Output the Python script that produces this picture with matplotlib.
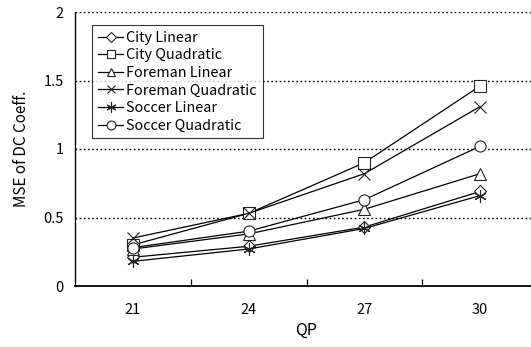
import matplotlib
matplotlib.use("Agg")
import matplotlib.pyplot as plt
import numpy as np

plt.rcParams["font.family"] = ["Noto Sans CJK JP", "DejaVu Sans"]

qp_labels = ["21", "24", "27", "30"]
city_linear = [0.21, 0.29, 0.43, 0.69]
city_quadratic = [0.30, 0.53, 0.90, 1.46]
foreman_linear = [0.27, 0.38, 0.56, 0.82]
foreman_quadratic = [0.35, 0.53, 0.82, 1.31]
soccer_linear = [0.18, 0.27, 0.42, 0.66]
soccer_quadratic = [0.28, 0.40, 0.63, 1.02]

series = [
    ("City Linear", city_linear, "D", 6),
    ("City Quadratic", city_quadratic, "s", 8),
    ("Foreman Linear", foreman_linear, "^", 8),
    ("Foreman Quadratic", foreman_quadratic, "x", 8),
    ("Soccer Linear", soccer_linear, (6, 2, 0), 9),
    ("Soccer Quadratic", soccer_quadratic, "o", 8),
]

fig = plt.figure(figsize=(5.31, 3.47), dpi=100)
# axes right edge lies past the figure, as in the cropped original
ax = fig.add_axes([75 / 531, 1 - 286 / 347, 463 / 531, 274 / 347])

x = np.arange(len(qp_labels))
for name, vals, mk, ms in series:
    ax.plot(x, vals, color="black", lw=0.9, marker=mk, ms=ms,
            mfc="white", mec="#222222", mew=0.8, label=name)

ax.set_xlim(-0.5, 3.5)
ax.set_ylim(0, 2)
ax.set_yticks([0, 0.5, 1, 1.5, 2])
ax.set_yticklabels(["0", "0.5", "1", "1.5", "2"])
ax.set_xticks(x)
ax.set_xticklabels(qp_labels)
ax.set_xticks(np.arange(0.5, 3.5, 1), minor=True)
ax.tick_params(axis="x", which="major", length=0, pad=12, labelsize=10.5)
ax.tick_params(axis="x", which="minor", length=5, direction="in", width=0.9)
ax.tick_params(axis="y", length=0, pad=8, labelsize=10.5)

for v in [0.5, 1, 1.5, 2]:
    ax.axhline(v, color="black", lw=1.0, ls=(0, (1.2, 1.8)), zorder=0)

ax.spines["top"].set_visible(False)
ax.spines["right"].set_visible(False)
ax.spines["left"].set_linewidth(1.0)
ax.spines["bottom"].set_linewidth(1.3)

ax.set_xlabel("QP", fontsize=11.5, labelpad=4)
ax.set_ylabel("MSE of DC Coeff.", fontsize=11, labelpad=10)

leg = ax.legend(loc="upper left", bbox_to_anchor=(17 / 463, 1 - 13 / 274),
                fontsize=10.3, frameon=True, fancybox=False, edgecolor="black",
                handlelength=1.8, handletextpad=0.2, borderpad=0.4,
                labelspacing=0.25, borderaxespad=0, markerscale=0.8)
leg.get_frame().set_linewidth(0.8)

fig.savefig("out.png", dpi=100)
